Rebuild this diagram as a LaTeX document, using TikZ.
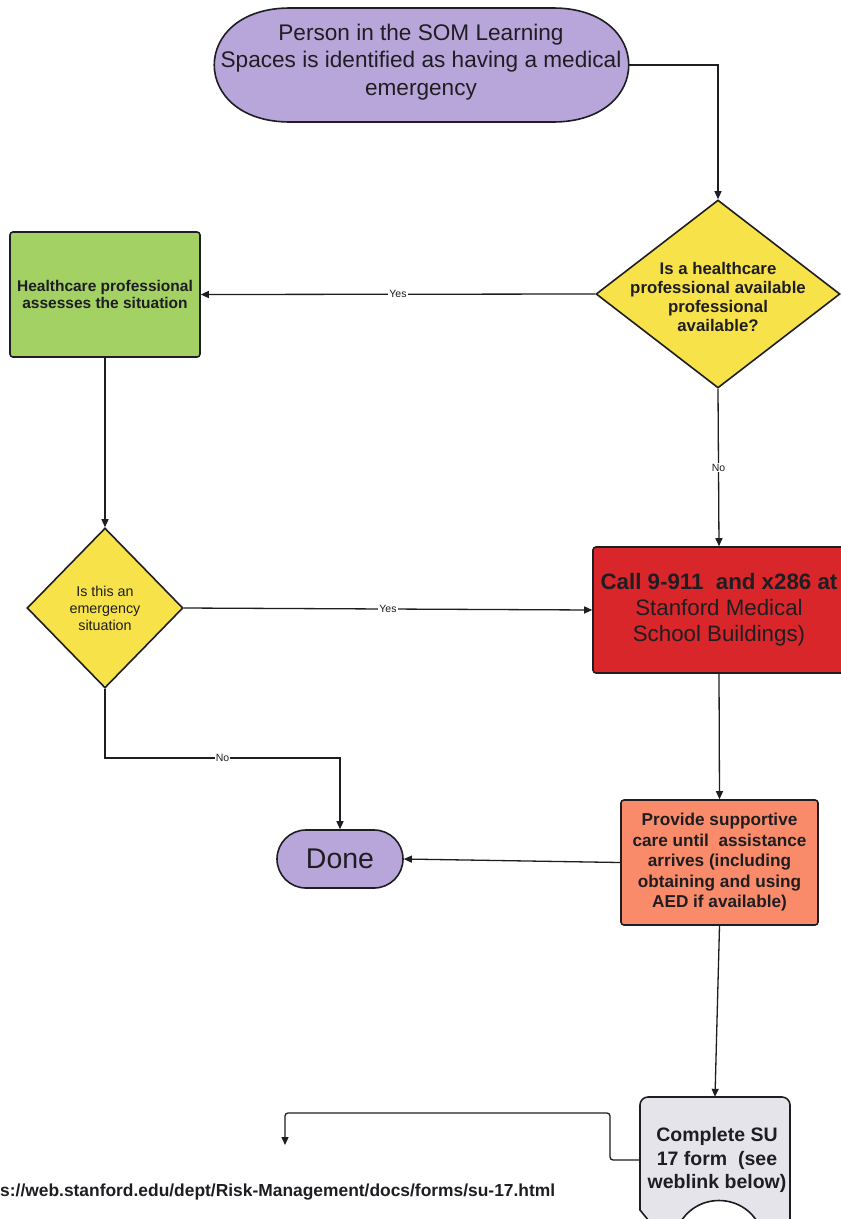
\documentclass[tikz,border=0pt]{standalone}
\usepackage{fontspec}
\setmainfont{Liberation Sans}
\usetikzlibrary{arrows.meta,shapes.geometric}
\definecolor{lav}{HTML}{B8A5DA}
\definecolor{yel}{HTML}{F7E24A}
\definecolor{grn}{HTML}{A4D164}
\definecolor{redbox}{HTML}{D8262B}
\definecolor{salmon}{HTML}{F98B6A}
\definecolor{docgray}{HTML}{E4E4EA}
\definecolor{ink}{HTML}{1E1E22}
\tikzset{
  conn/.style={draw=ink, line width=1.3pt, -{Triangle[length=8pt,width=7pt]}},
  lbl/.style={fill=white, text=ink, font=\fontsize{10.5}{12}\selectfont, inner sep=1pt},
  boxshape/.style={draw=ink, line width=1.6pt, rounded corners=3pt, inner sep=0pt, align=center, text=ink},
  diashape/.style={diamond, draw=ink, line width=1.6pt, fill=yel, inner sep=0pt},
  txt/.style={align=center, text=ink, inner sep=0pt}
}
\begin{document}
\begin{tikzpicture}[x=1pt,y=-1pt]
\useasboundingbox (0,0) rectangle (841,1219);
\clip (0,0) rectangle (841,1219);
\fill[white] (0,0) rectangle (841,1219);

% start terminal
\filldraw[fill=lav, draw=ink, line width=1.6pt]
  (290,8) -- (553,8) .. controls (654,8) and (654,122) .. (553,122)
  -- (290,122) .. controls (189,122) and (189,8) .. (290,8) -- cycle;
\node[minimum width=413pt, minimum height=114pt, inner sep=0pt] (start) at (421.5,65) {};
\node[txt, font=\fontsize{22.6}{27.5}\selectfont] (startt) at (421,62)
  {Person in the SOM Learning\\Spaces is identified as having a medical\\emergency};

% decision 1
\node[diashape, minimum width=244pt, minimum height=188pt] (d1) at (718,294) {};
\node[txt, font=\bfseries\fontsize{16.8}{19}\selectfont] (d1t) at (718,297)
  {Is a healthcare\\professional available\\professional\\available?};

% healthcare professional box
\node[boxshape, fill=grn, minimum width=190pt, minimum height=125pt,
  font=\bfseries\fontsize{15.5}{17.5}\selectfont] (hp) at (105,294.5)
  {Healthcare professional\\assesses the situation};

% decision 2
\node[diashape, minimum width=156pt, minimum height=160pt] (d2) at (105,608) {};
\node[txt, font=\fontsize{14.3}{17}\selectfont] (d2t) at (105,608)
  {Is this an\\emergency\\situation};

% call box
\node[boxshape, fill=redbox, minimum width=252pt, minimum height=126pt,
  font=\fontsize{22.3}{26}\selectfont] (call) at (719,610)
  {\textbf{Call 9-911~ and x286 at}\\Stanford Medical\\School Buildings)};

% supportive care
\node[boxshape, fill=salmon, minimum width=197pt, minimum height=125pt,
  font=\bfseries\fontsize{17.2}{20.5}\selectfont] (care) at (719.5,862.5)
  {Provide supportive\\care until~ assistance\\arrives (including\\obtaining and using\\AED if available)};

% done
\node[boxshape, fill=lav, rounded corners=29pt, minimum width=126pt, minimum height=58pt,
  font=\fontsize{28.5}{32}\selectfont] (done) at (340,859) {Done};

% document shape
\filldraw[fill=docgray, draw=ink, line width=1.6pt]
  (640,1210) {[rounded corners=8pt] -- (640,1097) -- (790,1097)} -- (790,1232)
  -- (762,1232) .. controls (748,1190) and (690,1190) .. (676,1232)
  -- (658,1232) -- cycle;
\node[minimum width=150pt, minimum height=126pt, inner sep=0pt] (form) at (715,1160) {};
\node[txt, font=\bfseries\fontsize{19.5}{23.5}\selectfont] (formt) at (717,1160)
  {Complete SU\\17 form~ (see\\weblink below)};

% url
\node[anchor=west, txt, font=\bfseries\fontsize{17.4}{19}\selectfont] (url) at (0,1192)
  {s://web.stanford.edu/dept/Risk-Management/docs/forms/su-17.html};

% connectors
\draw[conn] (start.east) -| (d1.north);
\draw[conn] (d1.west) -- node[lbl]{Yes} (hp.east);
\draw[conn] (d1.south) -- node[lbl]{No} (call.north);
\draw[conn] (hp.south) -- (d2.north);
\draw[conn] (d2.east) -- node[lbl]{Yes} (call.west);
\coordinate (nobend) at (105,758);
\draw[conn] (d2.south) -- (nobend) -- node[lbl]{No} (nobend -| done.north) -- (done.north);
\draw[conn] (call.south) -- (care.north);
\draw[conn] (care.west) -- (done.east);
\draw[conn] (care.south) -- (form.north);
\coordinate (bend) at (610,1113);
\coordinate (urlarrow) at (285,1145);
\draw[conn, rounded corners=3pt] (form.west) -| (bend) -- (bend -| urlarrow) -- (urlarrow);
\end{tikzpicture}
\end{document}
